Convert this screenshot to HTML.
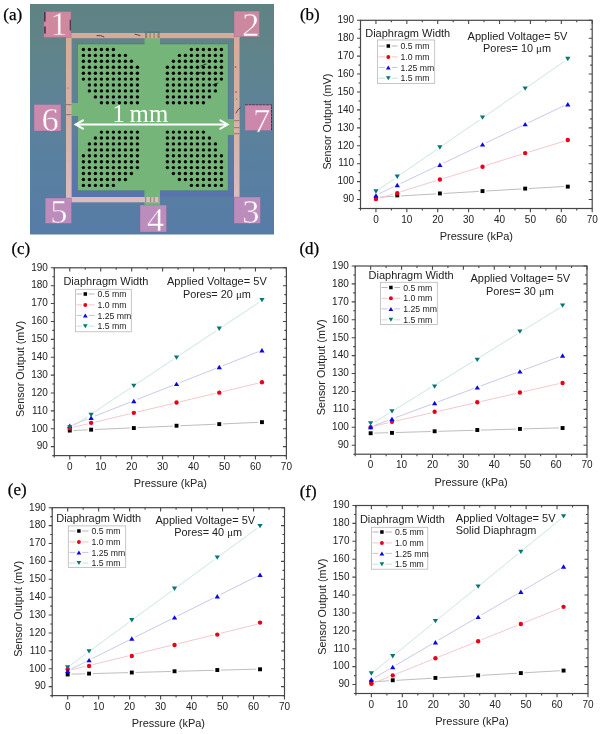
<!DOCTYPE html>
<html><head><meta charset="utf-8"><style>
html,body{margin:0;padding:0;background:#fff;width:602px;height:734px;overflow:hidden}
svg{display:block;filter:blur(0.4px)}
</style></head><body>
<svg width="602" height="734" viewBox="0 0 602 734" font-family='"Liberation Sans", sans-serif'>
<defs><linearGradient id="bg" x1="0" y1="0" x2="0" y2="1"><stop offset="0" stop-color="#5f8283"/><stop offset="0.2" stop-color="#608489"/><stop offset="0.4" stop-color="#5e8396"/><stop offset="0.65" stop-color="#5a809f"/><stop offset="1" stop-color="#567ca7"/></linearGradient><linearGradient id="tr" gradientUnits="userSpaceOnUse" x1="0" y1="33" x2="0" y2="203"><stop offset="0" stop-color="#d8aa98"/><stop offset="0.5" stop-color="#d8b0a6"/><stop offset="1" stop-color="#dcbcc0"/></linearGradient><linearGradient id="ib" gradientUnits="userSpaceOnUse" x1="0" y1="38" x2="0" y2="197"><stop offset="0" stop-color="#5a8290" stop-opacity="0"/><stop offset="0.6" stop-color="#5874a8" stop-opacity="0.2"/><stop offset="1" stop-color="#5a6cb4" stop-opacity="0.6"/></linearGradient><linearGradient id="pk" x1="0" y1="0" x2="0" y2="1"><stop offset="0" stop-color="#cf8aa0"/><stop offset="0.5" stop-color="#cc8cae"/><stop offset="1" stop-color="#bd8cbc"/></linearGradient></defs>
<rect x="30" y="4" width="244" height="230.5" fill="url(#bg)"/>
<rect x="71.5" y="38" width="162.5" height="159" fill="url(#ib)"/>
<rect x="77.5" y="44" width="150.7" height="146.7" fill="#76b579" stroke="#3d5c8c" stroke-width="0.8" stroke-opacity="0.45"/>
<rect x="144.5" y="31.5" width="15.5" height="13.5" fill="#4f7a78"/><rect x="144.5" y="36" width="15.5" height="9" fill="#76b579"/>
<rect x="144.5" y="190" width="15.5" height="15" fill="#76b579"/>
<rect x="66" y="103" width="12" height="13" fill="#76b579"/>
<rect x="227" y="119" width="12.5" height="16" fill="#76b579"/>
<rect x="66" y="33" width="173.5" height="5.2" fill="url(#tr)"/>
<rect x="66" y="33" width="5.6" height="169.3" fill="url(#tr)"/>
<rect x="234" y="33" width="5.5" height="166" fill="url(#tr)"/>
<rect x="66" y="197" width="94" height="5.3" fill="url(#tr)"/>
<g fill="#6b5a4a" opacity="0.55"><rect x="145" y="33" width="2.2" height="5"/><rect x="149.5" y="33" width="1.2" height="5"/><rect x="153.5" y="33" width="1.2" height="5"/><rect x="157.5" y="33" width="2.2" height="5"/><rect x="145" y="197" width="1.2" height="5"/><rect x="150" y="197" width="1.2" height="5"/><rect x="153.5" y="197" width="1.2" height="5"/><rect x="158.5" y="197" width="1.2" height="5"/><rect x="66" y="104" width="5.6" height="1.2"/><rect x="66" y="114" width="5.6" height="1.2"/><rect x="234" y="120" width="5.5" height="1.2"/><rect x="234" y="127" width="5.5" height="1.2"/><rect x="234" y="133" width="5.5" height="1.2"/></g>
<rect x="43.8" y="11.5" width="27.3" height="26" fill="#cf889e" stroke="#7a6a90" stroke-width="0.6" stroke-opacity="0.5"/>
<text x="58.8" y="35.4" text-anchor="middle" font-family='"Liberation Serif", serif' font-size="34.5" fill="#fff" stroke="#cf889e" stroke-width="0.45">1</text>
<rect x="234" y="11.1" width="25.4" height="25.7" fill="#cc889f" stroke="#7a6a90" stroke-width="0.6" stroke-opacity="0.5"/>
<text x="250.8" y="36.0" text-anchor="middle" font-family='"Liberation Serif", serif' font-size="34.5" fill="#fff" stroke="#cc889f" stroke-width="0.45">2</text>
<rect x="234" y="197" width="26.4" height="26.4" fill="#bb8cbc" stroke="#7a6a90" stroke-width="0.6" stroke-opacity="0.5"/>
<text x="250.8" y="223.0" text-anchor="middle" font-family='"Liberation Serif", serif' font-size="34.5" fill="#fff" stroke="#bb8cbc" stroke-width="0.45">3</text>
<rect x="140" y="205" width="26.5" height="27" fill="#bb8cbc" stroke="#7a6a90" stroke-width="0.6" stroke-opacity="0.5"/>
<text x="155.5" y="230.5" text-anchor="middle" font-family='"Liberation Serif", serif' font-size="34.5" fill="#fff" stroke="#bb8cbc" stroke-width="0.45">4</text>
<rect x="45.2" y="198" width="26.3" height="25.4" fill="#bd8cbc" stroke="#7a6a90" stroke-width="0.6" stroke-opacity="0.5"/>
<text x="58.9" y="223.4" text-anchor="middle" font-family='"Liberation Serif", serif' font-size="34.5" fill="#fff" stroke="#bd8cbc" stroke-width="0.45">5</text>
<rect x="34" y="104.5" width="27" height="26.5" fill="#c98aae" stroke="#7a6a90" stroke-width="0.6" stroke-opacity="0.5"/>
<text x="50.0" y="131.0" text-anchor="middle" font-family='"Liberation Serif", serif' font-size="34.5" fill="#fff" stroke="#c98aae" stroke-width="0.45">6</text>
<rect x="245" y="104.5" width="26.5" height="26" fill="#cc88ac" stroke="#7a6a90" stroke-width="0.6" stroke-opacity="0.5"/>
<text x="261.5" y="131.5" text-anchor="middle" font-family='"Liberation Serif", serif' font-size="34.5" fill="#fff" stroke="#cc88ac" stroke-width="0.45">7</text>
<g fill="#050505"><circle cx="83.4" cy="49.5" r="1.7"/><circle cx="89.4" cy="49.5" r="1.7"/><circle cx="95.4" cy="49.5" r="1.7"/><circle cx="101.4" cy="49.5" r="1.7"/><circle cx="107.4" cy="49.5" r="1.7"/><circle cx="113.4" cy="49.5" r="1.7"/><circle cx="83.4" cy="55.4" r="1.7"/><circle cx="89.4" cy="55.4" r="1.7"/><circle cx="95.4" cy="55.4" r="1.7"/><circle cx="101.4" cy="55.4" r="1.7"/><circle cx="107.4" cy="55.4" r="1.7"/><circle cx="113.4" cy="55.4" r="1.7"/><circle cx="119.4" cy="55.4" r="1.7"/><circle cx="125.4" cy="55.4" r="1.7"/><circle cx="83.4" cy="61.3" r="1.7"/><circle cx="89.4" cy="61.3" r="1.7"/><circle cx="95.4" cy="61.3" r="1.7"/><circle cx="101.4" cy="61.3" r="1.7"/><circle cx="107.4" cy="61.3" r="1.7"/><circle cx="113.4" cy="61.3" r="1.7"/><circle cx="119.4" cy="61.3" r="1.7"/><circle cx="125.4" cy="61.3" r="1.7"/><circle cx="131.4" cy="61.3" r="1.7"/><circle cx="83.4" cy="67.3" r="1.7"/><circle cx="89.4" cy="67.3" r="1.7"/><circle cx="95.4" cy="67.3" r="1.7"/><circle cx="101.4" cy="67.3" r="1.7"/><circle cx="107.4" cy="67.3" r="1.7"/><circle cx="113.4" cy="67.3" r="1.7"/><circle cx="119.4" cy="67.3" r="1.7"/><circle cx="125.4" cy="67.3" r="1.7"/><circle cx="131.4" cy="67.3" r="1.7"/><circle cx="137.4" cy="67.3" r="1.7"/><circle cx="83.4" cy="73.2" r="1.7"/><circle cx="89.4" cy="73.2" r="1.7"/><circle cx="95.4" cy="73.2" r="1.7"/><circle cx="101.4" cy="73.2" r="1.7"/><circle cx="107.4" cy="73.2" r="1.7"/><circle cx="113.4" cy="73.2" r="1.7"/><circle cx="119.4" cy="73.2" r="1.7"/><circle cx="125.4" cy="73.2" r="1.7"/><circle cx="131.4" cy="73.2" r="1.7"/><circle cx="137.4" cy="73.2" r="1.7"/><circle cx="83.4" cy="79.1" r="1.7"/><circle cx="89.4" cy="79.1" r="1.7"/><circle cx="95.4" cy="79.1" r="1.7"/><circle cx="101.4" cy="79.1" r="1.7"/><circle cx="107.4" cy="79.1" r="1.7"/><circle cx="113.4" cy="79.1" r="1.7"/><circle cx="119.4" cy="79.1" r="1.7"/><circle cx="125.4" cy="79.1" r="1.7"/><circle cx="131.4" cy="79.1" r="1.7"/><circle cx="137.4" cy="79.1" r="1.7"/><circle cx="89.4" cy="85.0" r="1.7"/><circle cx="95.4" cy="85.0" r="1.7"/><circle cx="101.4" cy="85.0" r="1.7"/><circle cx="107.4" cy="85.0" r="1.7"/><circle cx="113.4" cy="85.0" r="1.7"/><circle cx="119.4" cy="85.0" r="1.7"/><circle cx="125.4" cy="85.0" r="1.7"/><circle cx="131.4" cy="85.0" r="1.7"/><circle cx="137.4" cy="85.0" r="1.7"/><circle cx="89.4" cy="90.9" r="1.7"/><circle cx="95.4" cy="90.9" r="1.7"/><circle cx="101.4" cy="90.9" r="1.7"/><circle cx="107.4" cy="90.9" r="1.7"/><circle cx="113.4" cy="90.9" r="1.7"/><circle cx="119.4" cy="90.9" r="1.7"/><circle cx="125.4" cy="90.9" r="1.7"/><circle cx="131.4" cy="90.9" r="1.7"/><circle cx="137.4" cy="90.9" r="1.7"/><circle cx="95.4" cy="96.9" r="1.7"/><circle cx="101.4" cy="96.9" r="1.7"/><circle cx="107.4" cy="96.9" r="1.7"/><circle cx="113.4" cy="96.9" r="1.7"/><circle cx="119.4" cy="96.9" r="1.7"/><circle cx="125.4" cy="96.9" r="1.7"/><circle cx="131.4" cy="96.9" r="1.7"/><circle cx="137.4" cy="96.9" r="1.7"/><circle cx="101.4" cy="102.8" r="1.7"/><circle cx="107.4" cy="102.8" r="1.7"/><circle cx="113.4" cy="102.8" r="1.7"/><circle cx="119.4" cy="102.8" r="1.7"/><circle cx="125.4" cy="102.8" r="1.7"/><circle cx="131.4" cy="102.8" r="1.7"/><circle cx="137.4" cy="102.8" r="1.7"/><circle cx="191.4" cy="49.5" r="1.7"/><circle cx="197.4" cy="49.5" r="1.7"/><circle cx="203.4" cy="49.5" r="1.7"/><circle cx="209.4" cy="49.5" r="1.7"/><circle cx="215.4" cy="49.5" r="1.7"/><circle cx="221.4" cy="49.5" r="1.7"/><circle cx="179.4" cy="55.4" r="1.7"/><circle cx="185.4" cy="55.4" r="1.7"/><circle cx="191.4" cy="55.4" r="1.7"/><circle cx="197.4" cy="55.4" r="1.7"/><circle cx="203.4" cy="55.4" r="1.7"/><circle cx="209.4" cy="55.4" r="1.7"/><circle cx="215.4" cy="55.4" r="1.7"/><circle cx="221.4" cy="55.4" r="1.7"/><circle cx="173.4" cy="61.3" r="1.7"/><circle cx="179.4" cy="61.3" r="1.7"/><circle cx="185.4" cy="61.3" r="1.7"/><circle cx="191.4" cy="61.3" r="1.7"/><circle cx="197.4" cy="61.3" r="1.7"/><circle cx="203.4" cy="61.3" r="1.7"/><circle cx="209.4" cy="61.3" r="1.7"/><circle cx="215.4" cy="61.3" r="1.7"/><circle cx="221.4" cy="61.3" r="1.7"/><circle cx="167.4" cy="67.3" r="1.7"/><circle cx="173.4" cy="67.3" r="1.7"/><circle cx="179.4" cy="67.3" r="1.7"/><circle cx="185.4" cy="67.3" r="1.7"/><circle cx="191.4" cy="67.3" r="1.7"/><circle cx="197.4" cy="67.3" r="1.7"/><circle cx="203.4" cy="67.3" r="1.7"/><circle cx="209.4" cy="67.3" r="1.7"/><circle cx="215.4" cy="67.3" r="1.7"/><circle cx="221.4" cy="67.3" r="1.7"/><circle cx="167.4" cy="73.2" r="1.7"/><circle cx="173.4" cy="73.2" r="1.7"/><circle cx="179.4" cy="73.2" r="1.7"/><circle cx="185.4" cy="73.2" r="1.7"/><circle cx="191.4" cy="73.2" r="1.7"/><circle cx="197.4" cy="73.2" r="1.7"/><circle cx="203.4" cy="73.2" r="1.7"/><circle cx="209.4" cy="73.2" r="1.7"/><circle cx="215.4" cy="73.2" r="1.7"/><circle cx="221.4" cy="73.2" r="1.7"/><circle cx="167.4" cy="79.1" r="1.7"/><circle cx="173.4" cy="79.1" r="1.7"/><circle cx="179.4" cy="79.1" r="1.7"/><circle cx="185.4" cy="79.1" r="1.7"/><circle cx="191.4" cy="79.1" r="1.7"/><circle cx="197.4" cy="79.1" r="1.7"/><circle cx="203.4" cy="79.1" r="1.7"/><circle cx="209.4" cy="79.1" r="1.7"/><circle cx="215.4" cy="79.1" r="1.7"/><circle cx="221.4" cy="79.1" r="1.7"/><circle cx="167.4" cy="85.0" r="1.7"/><circle cx="173.4" cy="85.0" r="1.7"/><circle cx="179.4" cy="85.0" r="1.7"/><circle cx="185.4" cy="85.0" r="1.7"/><circle cx="191.4" cy="85.0" r="1.7"/><circle cx="197.4" cy="85.0" r="1.7"/><circle cx="203.4" cy="85.0" r="1.7"/><circle cx="209.4" cy="85.0" r="1.7"/><circle cx="215.4" cy="85.0" r="1.7"/><circle cx="167.4" cy="90.9" r="1.7"/><circle cx="173.4" cy="90.9" r="1.7"/><circle cx="179.4" cy="90.9" r="1.7"/><circle cx="185.4" cy="90.9" r="1.7"/><circle cx="191.4" cy="90.9" r="1.7"/><circle cx="197.4" cy="90.9" r="1.7"/><circle cx="203.4" cy="90.9" r="1.7"/><circle cx="209.4" cy="90.9" r="1.7"/><circle cx="215.4" cy="90.9" r="1.7"/><circle cx="167.4" cy="96.9" r="1.7"/><circle cx="173.4" cy="96.9" r="1.7"/><circle cx="179.4" cy="96.9" r="1.7"/><circle cx="185.4" cy="96.9" r="1.7"/><circle cx="191.4" cy="96.9" r="1.7"/><circle cx="197.4" cy="96.9" r="1.7"/><circle cx="203.4" cy="96.9" r="1.7"/><circle cx="209.4" cy="96.9" r="1.7"/><circle cx="167.4" cy="102.8" r="1.7"/><circle cx="173.4" cy="102.8" r="1.7"/><circle cx="179.4" cy="102.8" r="1.7"/><circle cx="185.4" cy="102.8" r="1.7"/><circle cx="191.4" cy="102.8" r="1.7"/><circle cx="197.4" cy="102.8" r="1.7"/><circle cx="203.4" cy="102.8" r="1.7"/><circle cx="101.4" cy="132.1" r="1.7"/><circle cx="107.4" cy="132.1" r="1.7"/><circle cx="113.4" cy="132.1" r="1.7"/><circle cx="119.4" cy="132.1" r="1.7"/><circle cx="125.4" cy="132.1" r="1.7"/><circle cx="131.4" cy="132.1" r="1.7"/><circle cx="137.4" cy="132.1" r="1.7"/><circle cx="95.4" cy="138.0" r="1.7"/><circle cx="101.4" cy="138.0" r="1.7"/><circle cx="107.4" cy="138.0" r="1.7"/><circle cx="113.4" cy="138.0" r="1.7"/><circle cx="119.4" cy="138.0" r="1.7"/><circle cx="125.4" cy="138.0" r="1.7"/><circle cx="131.4" cy="138.0" r="1.7"/><circle cx="137.4" cy="138.0" r="1.7"/><circle cx="89.4" cy="143.9" r="1.7"/><circle cx="95.4" cy="143.9" r="1.7"/><circle cx="101.4" cy="143.9" r="1.7"/><circle cx="107.4" cy="143.9" r="1.7"/><circle cx="113.4" cy="143.9" r="1.7"/><circle cx="119.4" cy="143.9" r="1.7"/><circle cx="125.4" cy="143.9" r="1.7"/><circle cx="131.4" cy="143.9" r="1.7"/><circle cx="137.4" cy="143.9" r="1.7"/><circle cx="89.4" cy="149.9" r="1.7"/><circle cx="95.4" cy="149.9" r="1.7"/><circle cx="101.4" cy="149.9" r="1.7"/><circle cx="107.4" cy="149.9" r="1.7"/><circle cx="113.4" cy="149.9" r="1.7"/><circle cx="119.4" cy="149.9" r="1.7"/><circle cx="125.4" cy="149.9" r="1.7"/><circle cx="131.4" cy="149.9" r="1.7"/><circle cx="137.4" cy="149.9" r="1.7"/><circle cx="83.4" cy="155.8" r="1.7"/><circle cx="89.4" cy="155.8" r="1.7"/><circle cx="95.4" cy="155.8" r="1.7"/><circle cx="101.4" cy="155.8" r="1.7"/><circle cx="107.4" cy="155.8" r="1.7"/><circle cx="113.4" cy="155.8" r="1.7"/><circle cx="119.4" cy="155.8" r="1.7"/><circle cx="125.4" cy="155.8" r="1.7"/><circle cx="131.4" cy="155.8" r="1.7"/><circle cx="137.4" cy="155.8" r="1.7"/><circle cx="83.4" cy="161.7" r="1.7"/><circle cx="89.4" cy="161.7" r="1.7"/><circle cx="95.4" cy="161.7" r="1.7"/><circle cx="101.4" cy="161.7" r="1.7"/><circle cx="107.4" cy="161.7" r="1.7"/><circle cx="113.4" cy="161.7" r="1.7"/><circle cx="119.4" cy="161.7" r="1.7"/><circle cx="125.4" cy="161.7" r="1.7"/><circle cx="131.4" cy="161.7" r="1.7"/><circle cx="137.4" cy="161.7" r="1.7"/><circle cx="83.4" cy="167.6" r="1.7"/><circle cx="89.4" cy="167.6" r="1.7"/><circle cx="95.4" cy="167.6" r="1.7"/><circle cx="101.4" cy="167.6" r="1.7"/><circle cx="107.4" cy="167.6" r="1.7"/><circle cx="113.4" cy="167.6" r="1.7"/><circle cx="119.4" cy="167.6" r="1.7"/><circle cx="125.4" cy="167.6" r="1.7"/><circle cx="131.4" cy="167.6" r="1.7"/><circle cx="137.4" cy="167.6" r="1.7"/><circle cx="83.4" cy="173.5" r="1.7"/><circle cx="89.4" cy="173.5" r="1.7"/><circle cx="95.4" cy="173.5" r="1.7"/><circle cx="101.4" cy="173.5" r="1.7"/><circle cx="107.4" cy="173.5" r="1.7"/><circle cx="113.4" cy="173.5" r="1.7"/><circle cx="119.4" cy="173.5" r="1.7"/><circle cx="125.4" cy="173.5" r="1.7"/><circle cx="131.4" cy="173.5" r="1.7"/><circle cx="83.4" cy="179.5" r="1.7"/><circle cx="89.4" cy="179.5" r="1.7"/><circle cx="95.4" cy="179.5" r="1.7"/><circle cx="101.4" cy="179.5" r="1.7"/><circle cx="107.4" cy="179.5" r="1.7"/><circle cx="113.4" cy="179.5" r="1.7"/><circle cx="119.4" cy="179.5" r="1.7"/><circle cx="125.4" cy="179.5" r="1.7"/><circle cx="83.4" cy="185.4" r="1.7"/><circle cx="89.4" cy="185.4" r="1.7"/><circle cx="95.4" cy="185.4" r="1.7"/><circle cx="101.4" cy="185.4" r="1.7"/><circle cx="107.4" cy="185.4" r="1.7"/><circle cx="113.4" cy="185.4" r="1.7"/><circle cx="167.4" cy="132.1" r="1.7"/><circle cx="173.4" cy="132.1" r="1.7"/><circle cx="179.4" cy="132.1" r="1.7"/><circle cx="185.4" cy="132.1" r="1.7"/><circle cx="191.4" cy="132.1" r="1.7"/><circle cx="197.4" cy="132.1" r="1.7"/><circle cx="203.4" cy="132.1" r="1.7"/><circle cx="167.4" cy="138.0" r="1.7"/><circle cx="173.4" cy="138.0" r="1.7"/><circle cx="179.4" cy="138.0" r="1.7"/><circle cx="185.4" cy="138.0" r="1.7"/><circle cx="191.4" cy="138.0" r="1.7"/><circle cx="197.4" cy="138.0" r="1.7"/><circle cx="203.4" cy="138.0" r="1.7"/><circle cx="209.4" cy="138.0" r="1.7"/><circle cx="167.4" cy="143.9" r="1.7"/><circle cx="173.4" cy="143.9" r="1.7"/><circle cx="179.4" cy="143.9" r="1.7"/><circle cx="185.4" cy="143.9" r="1.7"/><circle cx="191.4" cy="143.9" r="1.7"/><circle cx="197.4" cy="143.9" r="1.7"/><circle cx="203.4" cy="143.9" r="1.7"/><circle cx="209.4" cy="143.9" r="1.7"/><circle cx="215.4" cy="143.9" r="1.7"/><circle cx="167.4" cy="149.9" r="1.7"/><circle cx="173.4" cy="149.9" r="1.7"/><circle cx="179.4" cy="149.9" r="1.7"/><circle cx="185.4" cy="149.9" r="1.7"/><circle cx="191.4" cy="149.9" r="1.7"/><circle cx="197.4" cy="149.9" r="1.7"/><circle cx="203.4" cy="149.9" r="1.7"/><circle cx="209.4" cy="149.9" r="1.7"/><circle cx="215.4" cy="149.9" r="1.7"/><circle cx="167.4" cy="155.8" r="1.7"/><circle cx="173.4" cy="155.8" r="1.7"/><circle cx="179.4" cy="155.8" r="1.7"/><circle cx="185.4" cy="155.8" r="1.7"/><circle cx="191.4" cy="155.8" r="1.7"/><circle cx="197.4" cy="155.8" r="1.7"/><circle cx="203.4" cy="155.8" r="1.7"/><circle cx="209.4" cy="155.8" r="1.7"/><circle cx="215.4" cy="155.8" r="1.7"/><circle cx="221.4" cy="155.8" r="1.7"/><circle cx="167.4" cy="161.7" r="1.7"/><circle cx="173.4" cy="161.7" r="1.7"/><circle cx="179.4" cy="161.7" r="1.7"/><circle cx="185.4" cy="161.7" r="1.7"/><circle cx="191.4" cy="161.7" r="1.7"/><circle cx="197.4" cy="161.7" r="1.7"/><circle cx="203.4" cy="161.7" r="1.7"/><circle cx="209.4" cy="161.7" r="1.7"/><circle cx="215.4" cy="161.7" r="1.7"/><circle cx="221.4" cy="161.7" r="1.7"/><circle cx="167.4" cy="167.6" r="1.7"/><circle cx="173.4" cy="167.6" r="1.7"/><circle cx="179.4" cy="167.6" r="1.7"/><circle cx="185.4" cy="167.6" r="1.7"/><circle cx="191.4" cy="167.6" r="1.7"/><circle cx="197.4" cy="167.6" r="1.7"/><circle cx="203.4" cy="167.6" r="1.7"/><circle cx="209.4" cy="167.6" r="1.7"/><circle cx="215.4" cy="167.6" r="1.7"/><circle cx="221.4" cy="167.6" r="1.7"/><circle cx="173.4" cy="173.5" r="1.7"/><circle cx="179.4" cy="173.5" r="1.7"/><circle cx="185.4" cy="173.5" r="1.7"/><circle cx="191.4" cy="173.5" r="1.7"/><circle cx="197.4" cy="173.5" r="1.7"/><circle cx="203.4" cy="173.5" r="1.7"/><circle cx="209.4" cy="173.5" r="1.7"/><circle cx="215.4" cy="173.5" r="1.7"/><circle cx="221.4" cy="173.5" r="1.7"/><circle cx="179.4" cy="179.5" r="1.7"/><circle cx="185.4" cy="179.5" r="1.7"/><circle cx="191.4" cy="179.5" r="1.7"/><circle cx="197.4" cy="179.5" r="1.7"/><circle cx="203.4" cy="179.5" r="1.7"/><circle cx="209.4" cy="179.5" r="1.7"/><circle cx="215.4" cy="179.5" r="1.7"/><circle cx="221.4" cy="179.5" r="1.7"/><circle cx="191.4" cy="185.4" r="1.7"/><circle cx="197.4" cy="185.4" r="1.7"/><circle cx="203.4" cy="185.4" r="1.7"/><circle cx="209.4" cy="185.4" r="1.7"/><circle cx="215.4" cy="185.4" r="1.7"/><circle cx="221.4" cy="185.4" r="1.7"/></g>
<g stroke="#1a1a2a" fill="none" stroke-linecap="round" opacity="0.75"><path d="M44.8,12.5V21M45,27V33" stroke-width="1.6"/><path d="M70.3,20V30" stroke-width="1.2"/><path d="M97,35.6Q101,35 104,36.8" stroke-width="1" stroke="#3a1a1a"/><path d="M135,34.2L140,35.5" stroke-width="0.9" stroke="#3a1a1a"/><path d="M201,66L206,64M199,72.5L203,73M213,85L218,83M197,75L200,73" stroke-width="1.1"/><path d="M236,113Q237.5,109 240,108" stroke-width="0.9"/><path d="M245.5,104.8H271.5V130" stroke-width="0.9" stroke-dasharray="2,1.5"/></g>
<g fill="#2a1a1a" opacity="0.6"><circle cx="235.5" cy="67" r="0.8"/><circle cx="236" cy="92" r="0.8"/><circle cx="236.5" cy="99" r="0.6"/><circle cx="68" cy="88" r="0.6"/></g>
<path d="M77,124.5H226" stroke="#fff" stroke-width="2.2"/>
<path d="M83,120.3L75.6,124.5L83,128.7" stroke="#fff" stroke-width="2" fill="none" stroke-linecap="round"/>
<path d="M220.4,120.3L227.6,124.5L220.4,128.7" stroke="#fff" stroke-width="2" fill="none" stroke-linecap="round"/>
<text x="112.6" y="122" font-family='"Liberation Serif", serif' font-size="24.6" fill="#fff">1</text><text x="129.6" y="122" font-family='"Liberation Serif", serif' font-size="24.6" fill="#fff" textLength="38.6" lengthAdjust="spacingAndGlyphs">mm</text>
<text x="3.2" y="20.3" font-family='"Liberation Serif", serif' font-size="17.1" fill="#000" stroke="#000" stroke-width="0.25">(a)</text>
<line x1="375.95" y1="197.38" x2="567.79" y2="186.29" stroke="#b6b6b6" stroke-width="0.9"/>
<line x1="375.95" y1="199.33" x2="567.79" y2="140.09" stroke="#f2c2c6" stroke-width="0.9"/>
<line x1="375.95" y1="195.22" x2="567.79" y2="103.95" stroke="#c2c2ec" stroke-width="0.9"/>
<line x1="375.95" y1="191.51" x2="567.79" y2="59.03" stroke="#c6e2e2" stroke-width="0.9"/>
<g fill="#fff"><circle cx="375.95" cy="198.28" r="3.7"/><circle cx="397.26" cy="195.42" r="3.7"/><circle cx="439.90" cy="193.44" r="3.7"/><circle cx="482.53" cy="191.11" r="3.7"/><circle cx="525.16" cy="188.60" r="3.7"/><circle cx="567.79" cy="186.63" r="3.7"/><circle cx="375.95" cy="199.00" r="3.7"/><circle cx="397.26" cy="193.09" r="3.7"/><circle cx="439.90" cy="179.46" r="3.7"/><circle cx="482.53" cy="166.74" r="3.7"/><circle cx="525.16" cy="153.12" r="3.7"/><circle cx="567.79" cy="140.03" r="3.7"/><circle cx="375.95" cy="195.42" r="3.7"/><circle cx="397.26" cy="185.02" r="3.7"/><circle cx="439.90" cy="164.77" r="3.7"/><circle cx="482.53" cy="144.33" r="3.7"/><circle cx="525.16" cy="124.08" r="3.7"/><circle cx="567.79" cy="104.18" r="3.7"/><circle cx="375.95" cy="191.47" r="3.7"/><circle cx="397.26" cy="176.77" r="3.7"/><circle cx="439.90" cy="147.56" r="3.7"/><circle cx="482.53" cy="117.63" r="3.7"/><circle cx="525.16" cy="88.59" r="3.7"/><circle cx="567.79" cy="59.02" r="3.7"/></g>
<rect x="374.00" y="196.33" width="3.90" height="3.90" fill="#000000"/>
<rect x="395.31" y="193.47" width="3.90" height="3.90" fill="#000000"/>
<rect x="437.95" y="191.49" width="3.90" height="3.90" fill="#000000"/>
<rect x="480.58" y="189.16" width="3.90" height="3.90" fill="#000000"/>
<rect x="523.21" y="186.65" width="3.90" height="3.90" fill="#000000"/>
<rect x="565.84" y="184.68" width="3.90" height="3.90" fill="#000000"/>
<circle cx="375.95" cy="199.00" r="2.20" fill="#ec0018"/>
<circle cx="397.26" cy="193.09" r="2.20" fill="#ec0018"/>
<circle cx="439.90" cy="179.46" r="2.20" fill="#ec0018"/>
<circle cx="482.53" cy="166.74" r="2.20" fill="#ec0018"/>
<circle cx="525.16" cy="153.12" r="2.20" fill="#ec0018"/>
<circle cx="567.79" cy="140.03" r="2.20" fill="#ec0018"/>
<path d="M373.30,197.62L378.60,197.62L375.95,193.22Z" fill="#0808e8"/>
<path d="M394.61,187.22L399.91,187.22L397.26,182.82Z" fill="#0808e8"/>
<path d="M437.25,166.97L442.55,166.97L439.90,162.57Z" fill="#0808e8"/>
<path d="M479.88,146.53L485.18,146.53L482.53,142.13Z" fill="#0808e8"/>
<path d="M522.51,126.28L527.81,126.28L525.16,121.88Z" fill="#0808e8"/>
<path d="M565.14,106.38L570.44,106.38L567.79,101.98Z" fill="#0808e8"/>
<path d="M373.30,189.27L378.60,189.27L375.95,193.67Z" fill="#087676"/>
<path d="M394.61,174.57L399.91,174.57L397.26,178.97Z" fill="#087676"/>
<path d="M437.25,145.36L442.55,145.36L439.90,149.76Z" fill="#087676"/>
<path d="M479.88,115.43L485.18,115.43L482.53,119.83Z" fill="#087676"/>
<path d="M522.51,86.39L527.81,86.39L525.16,90.79Z" fill="#087676"/>
<path d="M565.14,56.82L570.44,56.82L567.79,61.22Z" fill="#087676"/>
<rect x="360.50" y="20.30" width="231.70" height="188.20" fill="none" stroke="#474747" stroke-width="1.2"/>
<path d="M358.50,208.50H360.50M590.20,208.50H592.20M357.00,199.54H360.50M588.70,199.54H592.20M358.50,190.58H360.50M590.20,190.58H592.20M357.00,181.61H360.50M588.70,181.61H592.20M358.50,172.65H360.50M590.20,172.65H592.20M357.00,163.69H360.50M588.70,163.69H592.20M358.50,154.73H360.50M590.20,154.73H592.20M357.00,145.77H360.50M588.70,145.77H592.20M358.50,136.80H360.50M590.20,136.80H592.20M357.00,127.84H360.50M588.70,127.84H592.20M358.50,118.88H360.50M590.20,118.88H592.20M357.00,109.92H360.50M588.70,109.92H592.20M358.50,100.96H360.50M590.20,100.96H592.20M357.00,92.00H360.50M588.70,92.00H592.20M358.50,83.03H360.50M590.20,83.03H592.20M357.00,74.07H360.50M588.70,74.07H592.20M358.50,65.11H360.50M590.20,65.11H592.20M357.00,56.15H360.50M588.70,56.15H592.20M358.50,47.19H360.50M590.20,47.19H592.20M357.00,38.22H360.50M588.70,38.22H592.20M358.50,29.26H360.50M590.20,29.26H592.20M357.00,20.30H360.50M588.70,20.30H592.20M360.50,208.50V210.50M360.50,20.30V22.30M375.95,208.50V212.30M375.95,20.30V24.10M391.39,208.50V210.50M391.39,20.30V22.30M406.84,208.50V212.30M406.84,20.30V24.10M422.29,208.50V210.50M422.29,20.30V22.30M437.73,208.50V212.30M437.73,20.30V24.10M453.18,208.50V210.50M453.18,20.30V22.30M468.63,208.50V212.30M468.63,20.30V24.10M484.07,208.50V210.50M484.07,20.30V22.30M499.52,208.50V212.30M499.52,20.30V24.10M514.97,208.50V210.50M514.97,20.30V22.30M530.41,208.50V212.30M530.41,20.30V24.10M545.86,208.50V210.50M545.86,20.30V22.30M561.31,208.50V212.30M561.31,20.30V24.10M576.75,208.50V210.50M576.75,20.30V22.30M592.20,208.50V212.30M592.20,20.30V24.10" stroke="#474747" stroke-width="1.1" fill="none"/>
<g font-size="10" fill="#222"><text x="354.10" y="202.34" text-anchor="end">90</text><text x="354.10" y="184.41" text-anchor="end">100</text><text x="354.10" y="166.49" text-anchor="end">110</text><text x="354.10" y="148.57" text-anchor="end">120</text><text x="354.10" y="130.64" text-anchor="end">130</text><text x="354.10" y="112.72" text-anchor="end">140</text><text x="354.10" y="94.80" text-anchor="end">150</text><text x="354.10" y="76.87" text-anchor="end">160</text><text x="354.10" y="58.95" text-anchor="end">170</text><text x="354.10" y="41.02" text-anchor="end">180</text><text x="354.10" y="23.10" text-anchor="end">190</text><text x="375.95" y="222.50" text-anchor="middle">0</text><text x="406.84" y="222.50" text-anchor="middle">10</text><text x="437.73" y="222.50" text-anchor="middle">20</text><text x="468.63" y="222.50" text-anchor="middle">30</text><text x="499.52" y="222.50" text-anchor="middle">40</text><text x="530.41" y="222.50" text-anchor="middle">50</text><text x="561.31" y="222.50" text-anchor="middle">60</text><text x="592.20" y="222.50" text-anchor="middle">70</text></g>
<text x="476.35" y="239.90" text-anchor="middle" font-size="11" fill="#222">Pressure (kPa)</text>
<text transform="translate(330.50,121.60) rotate(-90)" text-anchor="middle" font-size="10.8" fill="#222">Sensor Output (mV)</text>
<text x="365.20" y="37.20" font-size="10.9" fill="#222" textLength="85" lengthAdjust="spacingAndGlyphs">Diaphragm Width</text>
<rect x="377.50" y="40.00" width="57.20" height="43.40" fill="#fff" stroke="#b8b8b8" stroke-width="0.8"/>
<line x1="378.50" y1="46.00" x2="397.50" y2="46.00" stroke="#b6b6b6" stroke-width="1"/>
<circle cx="388.30" cy="46.00" r="3.4" fill="#fff"/>
<rect x="386.55" y="44.24" width="3.51" height="3.51" fill="#000000"/>
<text x="400.50" y="49.10" font-size="8.7" fill="#222">0.5 mm</text>
<line x1="378.50" y1="56.90" x2="397.50" y2="56.90" stroke="#f2c2c6" stroke-width="1"/>
<circle cx="388.30" cy="56.90" r="3.4" fill="#fff"/>
<circle cx="388.30" cy="56.90" r="1.98" fill="#ec0018"/>
<text x="400.50" y="60.00" font-size="8.7" fill="#222">1.0 mm</text>
<line x1="378.50" y1="67.40" x2="397.50" y2="67.40" stroke="#c2c2ec" stroke-width="1"/>
<circle cx="388.30" cy="67.40" r="3.4" fill="#fff"/>
<path d="M385.92,69.38L390.69,69.38L388.30,65.42Z" fill="#0808e8"/>
<text x="400.50" y="70.50" font-size="8.7" fill="#222">1.25 mm</text>
<line x1="378.50" y1="78.20" x2="397.50" y2="78.20" stroke="#c6e2e2" stroke-width="1"/>
<circle cx="388.30" cy="78.20" r="3.4" fill="#fff"/>
<path d="M385.92,76.22L390.69,76.22L388.30,80.18Z" fill="#087676"/>
<text x="400.50" y="81.30" font-size="8.7" fill="#222">1.5 mm</text>
<text x="467.60" y="40.10" font-size="10.9" fill="#222" textLength="99.8" lengthAdjust="spacingAndGlyphs">Applied Voltage= 5V</text>
<text x="483.10" y="51.60" font-size="10.9" fill="#222">Pores= 10 <tspan font-family="Liberation Serif">μ</tspan>m</text>
<text x="300.00" y="19.90" font-family='"Liberation Serif", serif' font-size="16.9" fill="#000" stroke="#000" stroke-width="0.25">(b)</text>
<line x1="69.77" y1="430.63" x2="261.95" y2="422.17" stroke="#b6b6b6" stroke-width="0.9"/>
<line x1="69.77" y1="428.17" x2="261.95" y2="382.27" stroke="#f2c2c6" stroke-width="0.9"/>
<line x1="69.77" y1="425.99" x2="261.95" y2="350.29" stroke="#c2c2ec" stroke-width="0.9"/>
<line x1="69.77" y1="428.34" x2="261.95" y2="300.44" stroke="#c6e2e2" stroke-width="0.9"/>
<g fill="#fff"><circle cx="69.77" cy="430.56" r="3.7"/><circle cx="91.13" cy="429.67" r="3.7"/><circle cx="133.83" cy="428.06" r="3.7"/><circle cx="176.54" cy="425.73" r="3.7"/><circle cx="219.25" cy="424.12" r="3.7"/><circle cx="261.95" cy="422.15" r="3.7"/><circle cx="69.77" cy="428.41" r="3.7"/><circle cx="91.13" cy="422.87" r="3.7"/><circle cx="133.83" cy="412.85" r="3.7"/><circle cx="176.54" cy="402.48" r="3.7"/><circle cx="219.25" cy="392.64" r="3.7"/><circle cx="261.95" cy="382.27" r="3.7"/><circle cx="69.77" cy="425.73" r="3.7"/><circle cx="91.13" cy="417.68" r="3.7"/><circle cx="133.83" cy="401.05" r="3.7"/><circle cx="176.54" cy="383.88" r="3.7"/><circle cx="219.25" cy="367.07" r="3.7"/><circle cx="261.95" cy="350.25" r="3.7"/><circle cx="69.77" cy="427.34" r="3.7"/><circle cx="91.13" cy="415.00" r="3.7"/><circle cx="133.83" cy="385.85" r="3.7"/><circle cx="176.54" cy="357.59" r="3.7"/><circle cx="219.25" cy="328.79" r="3.7"/><circle cx="261.95" cy="300.17" r="3.7"/></g>
<rect x="67.82" y="428.61" width="3.90" height="3.90" fill="#000000"/>
<rect x="89.18" y="427.72" width="3.90" height="3.90" fill="#000000"/>
<rect x="131.88" y="426.11" width="3.90" height="3.90" fill="#000000"/>
<rect x="174.59" y="423.78" width="3.90" height="3.90" fill="#000000"/>
<rect x="217.30" y="422.17" width="3.90" height="3.90" fill="#000000"/>
<rect x="260.00" y="420.20" width="3.90" height="3.90" fill="#000000"/>
<circle cx="69.77" cy="428.41" r="2.20" fill="#ec0018"/>
<circle cx="91.13" cy="422.87" r="2.20" fill="#ec0018"/>
<circle cx="133.83" cy="412.85" r="2.20" fill="#ec0018"/>
<circle cx="176.54" cy="402.48" r="2.20" fill="#ec0018"/>
<circle cx="219.25" cy="392.64" r="2.20" fill="#ec0018"/>
<circle cx="261.95" cy="382.27" r="2.20" fill="#ec0018"/>
<path d="M67.12,427.93L72.42,427.93L69.77,423.53Z" fill="#0808e8"/>
<path d="M88.48,419.88L93.78,419.88L91.13,415.48Z" fill="#0808e8"/>
<path d="M131.18,403.25L136.48,403.25L133.83,398.85Z" fill="#0808e8"/>
<path d="M173.89,386.08L179.19,386.08L176.54,381.68Z" fill="#0808e8"/>
<path d="M216.60,369.27L221.90,369.27L219.25,364.87Z" fill="#0808e8"/>
<path d="M259.30,352.45L264.60,352.45L261.95,348.05Z" fill="#0808e8"/>
<path d="M67.12,425.14L72.42,425.14L69.77,429.54Z" fill="#087676"/>
<path d="M88.48,412.80L93.78,412.80L91.13,417.20Z" fill="#087676"/>
<path d="M131.18,383.65L136.48,383.65L133.83,388.05Z" fill="#087676"/>
<path d="M173.89,355.39L179.19,355.39L176.54,359.79Z" fill="#087676"/>
<path d="M216.60,326.59L221.90,326.59L219.25,330.99Z" fill="#087676"/>
<path d="M259.30,297.97L264.60,297.97L261.95,302.37Z" fill="#087676"/>
<rect x="54.30" y="267.80" width="232.10" height="187.80" fill="none" stroke="#474747" stroke-width="1.2"/>
<path d="M52.30,455.60H54.30M284.40,455.60H286.40M50.80,446.66H54.30M282.90,446.66H286.40M52.30,437.71H54.30M284.40,437.71H286.40M50.80,428.77H54.30M282.90,428.77H286.40M52.30,419.83H54.30M284.40,419.83H286.40M50.80,410.89H54.30M282.90,410.89H286.40M52.30,401.94H54.30M284.40,401.94H286.40M50.80,393.00H54.30M282.90,393.00H286.40M52.30,384.06H54.30M284.40,384.06H286.40M50.80,375.11H54.30M282.90,375.11H286.40M52.30,366.17H54.30M284.40,366.17H286.40M50.80,357.23H54.30M282.90,357.23H286.40M52.30,348.29H54.30M284.40,348.29H286.40M50.80,339.34H54.30M282.90,339.34H286.40M52.30,330.40H54.30M284.40,330.40H286.40M50.80,321.46H54.30M282.90,321.46H286.40M52.30,312.51H54.30M284.40,312.51H286.40M50.80,303.57H54.30M282.90,303.57H286.40M52.30,294.63H54.30M284.40,294.63H286.40M50.80,285.69H54.30M282.90,285.69H286.40M52.30,276.74H54.30M284.40,276.74H286.40M50.80,267.80H54.30M282.90,267.80H286.40M54.30,455.60V457.60M54.30,267.80V269.80M69.77,455.60V459.40M69.77,267.80V271.60M85.25,455.60V457.60M85.25,267.80V269.80M100.72,455.60V459.40M100.72,267.80V271.60M116.19,455.60V457.60M116.19,267.80V269.80M131.67,455.60V459.40M131.67,267.80V271.60M147.14,455.60V457.60M147.14,267.80V269.80M162.61,455.60V459.40M162.61,267.80V271.60M178.09,455.60V457.60M178.09,267.80V269.80M193.56,455.60V459.40M193.56,267.80V271.60M209.03,455.60V457.60M209.03,267.80V269.80M224.51,455.60V459.40M224.51,267.80V271.60M239.98,455.60V457.60M239.98,267.80V269.80M255.45,455.60V459.40M255.45,267.80V271.60M270.93,455.60V457.60M270.93,267.80V269.80M286.40,455.60V459.40M286.40,267.80V271.60" stroke="#474747" stroke-width="1.1" fill="none"/>
<g font-size="10" fill="#222"><text x="47.90" y="449.46" text-anchor="end">90</text><text x="47.90" y="431.57" text-anchor="end">100</text><text x="47.90" y="413.69" text-anchor="end">110</text><text x="47.90" y="395.80" text-anchor="end">120</text><text x="47.90" y="377.91" text-anchor="end">130</text><text x="47.90" y="360.03" text-anchor="end">140</text><text x="47.90" y="342.14" text-anchor="end">150</text><text x="47.90" y="324.26" text-anchor="end">160</text><text x="47.90" y="306.37" text-anchor="end">170</text><text x="47.90" y="288.49" text-anchor="end">180</text><text x="47.90" y="270.60" text-anchor="end">190</text><text x="69.77" y="469.60" text-anchor="middle">0</text><text x="100.72" y="469.60" text-anchor="middle">10</text><text x="131.67" y="469.60" text-anchor="middle">20</text><text x="162.61" y="469.60" text-anchor="middle">30</text><text x="193.56" y="469.60" text-anchor="middle">40</text><text x="224.51" y="469.60" text-anchor="middle">50</text><text x="255.45" y="469.60" text-anchor="middle">60</text><text x="286.40" y="469.60" text-anchor="middle">70</text></g>
<text x="170.35" y="487.00" text-anchor="middle" font-size="11" fill="#222">Pressure (kPa)</text>
<text transform="translate(24.30,368.90) rotate(-90)" text-anchor="middle" font-size="10.8" fill="#222">Sensor Output (mV)</text>
<text x="63.40" y="285.30" font-size="10.9" fill="#222" textLength="85" lengthAdjust="spacingAndGlyphs">Diaphragm Width</text>
<rect x="75.50" y="289.30" width="55.80" height="42.50" fill="#fff" stroke="#b8b8b8" stroke-width="0.8"/>
<line x1="76.50" y1="294.00" x2="94.50" y2="294.00" stroke="#b6b6b6" stroke-width="1"/>
<circle cx="85.30" cy="294.00" r="3.4" fill="#fff"/>
<rect x="83.55" y="292.25" width="3.51" height="3.51" fill="#000000"/>
<text x="97.50" y="297.10" font-size="8.7" fill="#222">0.5 mm</text>
<line x1="76.50" y1="304.90" x2="94.50" y2="304.90" stroke="#f2c2c6" stroke-width="1"/>
<circle cx="85.30" cy="304.90" r="3.4" fill="#fff"/>
<circle cx="85.30" cy="304.90" r="1.98" fill="#ec0018"/>
<text x="97.50" y="308.00" font-size="8.7" fill="#222">1.0 mm</text>
<line x1="76.50" y1="315.40" x2="94.50" y2="315.40" stroke="#c2c2ec" stroke-width="1"/>
<circle cx="85.30" cy="315.40" r="3.4" fill="#fff"/>
<path d="M82.91,317.38L87.69,317.38L85.30,313.42Z" fill="#0808e8"/>
<text x="97.50" y="318.50" font-size="8.7" fill="#222">1.25 mm</text>
<line x1="76.50" y1="326.20" x2="94.50" y2="326.20" stroke="#c6e2e2" stroke-width="1"/>
<circle cx="85.30" cy="326.20" r="3.4" fill="#fff"/>
<path d="M82.91,324.22L87.69,324.22L85.30,328.18Z" fill="#087676"/>
<text x="97.50" y="329.30" font-size="8.7" fill="#222">1.5 mm</text>
<text x="167.00" y="285.00" font-size="10.9" fill="#222" textLength="99.8" lengthAdjust="spacingAndGlyphs">Applied Voltage= 5V</text>
<text x="182.90" y="297.90" font-size="10.9" fill="#222">Pores= 20 <tspan font-family="Liberation Serif">μ</tspan>m</text>
<text x="11.50" y="253.70" font-family='"Liberation Serif", serif' font-size="16.9" fill="#000" stroke="#000" stroke-width="0.25">(c)</text>
<line x1="370.65" y1="433.22" x2="562.58" y2="427.81" stroke="#b6b6b6" stroke-width="0.9"/>
<line x1="370.65" y1="426.82" x2="562.58" y2="382.79" stroke="#f2c2c6" stroke-width="0.9"/>
<line x1="370.65" y1="426.88" x2="562.58" y2="355.49" stroke="#c2c2ec" stroke-width="0.9"/>
<line x1="370.65" y1="424.62" x2="562.58" y2="306.09" stroke="#c6e2e2" stroke-width="0.9"/>
<g fill="#fff"><circle cx="370.65" cy="433.23" r="3.7"/><circle cx="391.98" cy="432.87" r="3.7"/><circle cx="434.63" cy="431.26" r="3.7"/><circle cx="477.28" cy="430.00" r="3.7"/><circle cx="519.93" cy="428.93" r="3.7"/><circle cx="562.58" cy="428.03" r="3.7"/><circle cx="370.65" cy="427.31" r="3.7"/><circle cx="391.98" cy="421.76" r="3.7"/><circle cx="434.63" cy="411.72" r="3.7"/><circle cx="477.28" cy="402.22" r="3.7"/><circle cx="519.93" cy="392.54" r="3.7"/><circle cx="562.58" cy="383.04" r="3.7"/><circle cx="370.65" cy="426.96" r="3.7"/><circle cx="391.98" cy="418.89" r="3.7"/><circle cx="434.63" cy="402.94" r="3.7"/><circle cx="477.28" cy="387.34" r="3.7"/><circle cx="519.93" cy="371.39" r="3.7"/><circle cx="562.58" cy="355.44" r="3.7"/><circle cx="370.65" cy="423.37" r="3.7"/><circle cx="391.98" cy="411.36" r="3.7"/><circle cx="434.63" cy="386.63" r="3.7"/><circle cx="477.28" cy="359.92" r="3.7"/><circle cx="519.93" cy="331.60" r="3.7"/><circle cx="562.58" cy="305.61" r="3.7"/></g>
<rect x="368.70" y="431.28" width="3.90" height="3.90" fill="#000000"/>
<rect x="390.03" y="430.92" width="3.90" height="3.90" fill="#000000"/>
<rect x="432.68" y="429.31" width="3.90" height="3.90" fill="#000000"/>
<rect x="475.33" y="428.05" width="3.90" height="3.90" fill="#000000"/>
<rect x="517.98" y="426.98" width="3.90" height="3.90" fill="#000000"/>
<rect x="560.63" y="426.08" width="3.90" height="3.90" fill="#000000"/>
<circle cx="370.65" cy="427.31" r="2.20" fill="#ec0018"/>
<circle cx="391.98" cy="421.76" r="2.20" fill="#ec0018"/>
<circle cx="434.63" cy="411.72" r="2.20" fill="#ec0018"/>
<circle cx="477.28" cy="402.22" r="2.20" fill="#ec0018"/>
<circle cx="519.93" cy="392.54" r="2.20" fill="#ec0018"/>
<circle cx="562.58" cy="383.04" r="2.20" fill="#ec0018"/>
<path d="M368.00,429.16L373.30,429.16L370.65,424.76Z" fill="#0808e8"/>
<path d="M389.33,421.09L394.63,421.09L391.98,416.69Z" fill="#0808e8"/>
<path d="M431.98,405.14L437.28,405.14L434.63,400.74Z" fill="#0808e8"/>
<path d="M474.63,389.54L479.93,389.54L477.28,385.14Z" fill="#0808e8"/>
<path d="M517.28,373.59L522.58,373.59L519.93,369.19Z" fill="#0808e8"/>
<path d="M559.93,357.64L565.23,357.64L562.58,353.24Z" fill="#0808e8"/>
<path d="M368.00,421.17L373.30,421.17L370.65,425.57Z" fill="#087676"/>
<path d="M389.33,409.16L394.63,409.16L391.98,413.56Z" fill="#087676"/>
<path d="M431.98,384.43L437.28,384.43L434.63,388.83Z" fill="#087676"/>
<path d="M474.63,357.72L479.93,357.72L477.28,362.12Z" fill="#087676"/>
<path d="M517.28,329.40L522.58,329.40L519.93,333.80Z" fill="#087676"/>
<path d="M559.93,303.41L565.23,303.41L562.58,307.81Z" fill="#087676"/>
<rect x="355.20" y="266.00" width="231.80" height="188.20" fill="none" stroke="#474747" stroke-width="1.2"/>
<path d="M353.20,454.20H355.20M585.00,454.20H587.00M351.70,445.24H355.20M583.50,445.24H587.00M353.20,436.28H355.20M585.00,436.28H587.00M351.70,427.31H355.20M583.50,427.31H587.00M353.20,418.35H355.20M585.00,418.35H587.00M351.70,409.39H355.20M583.50,409.39H587.00M353.20,400.43H355.20M585.00,400.43H587.00M351.70,391.47H355.20M583.50,391.47H587.00M353.20,382.50H355.20M585.00,382.50H587.00M351.70,373.54H355.20M583.50,373.54H587.00M353.20,364.58H355.20M585.00,364.58H587.00M351.70,355.62H355.20M583.50,355.62H587.00M353.20,346.66H355.20M585.00,346.66H587.00M351.70,337.70H355.20M583.50,337.70H587.00M353.20,328.73H355.20M585.00,328.73H587.00M351.70,319.77H355.20M583.50,319.77H587.00M353.20,310.81H355.20M585.00,310.81H587.00M351.70,301.85H355.20M583.50,301.85H587.00M353.20,292.89H355.20M585.00,292.89H587.00M351.70,283.92H355.20M583.50,283.92H587.00M353.20,274.96H355.20M585.00,274.96H587.00M351.70,266.00H355.20M583.50,266.00H587.00M355.20,454.20V456.20M355.20,266.00V268.00M370.65,454.20V458.00M370.65,266.00V269.80M386.11,454.20V456.20M386.11,266.00V268.00M401.56,454.20V458.00M401.56,266.00V269.80M417.01,454.20V456.20M417.01,266.00V268.00M432.47,454.20V458.00M432.47,266.00V269.80M447.92,454.20V456.20M447.92,266.00V268.00M463.37,454.20V458.00M463.37,266.00V269.80M478.83,454.20V456.20M478.83,266.00V268.00M494.28,454.20V458.00M494.28,266.00V269.80M509.73,454.20V456.20M509.73,266.00V268.00M525.19,454.20V458.00M525.19,266.00V269.80M540.64,454.20V456.20M540.64,266.00V268.00M556.09,454.20V458.00M556.09,266.00V269.80M571.55,454.20V456.20M571.55,266.00V268.00M587.00,454.20V458.00M587.00,266.00V269.80" stroke="#474747" stroke-width="1.1" fill="none"/>
<g font-size="10" fill="#222"><text x="348.80" y="448.04" text-anchor="end">90</text><text x="348.80" y="430.11" text-anchor="end">100</text><text x="348.80" y="412.19" text-anchor="end">110</text><text x="348.80" y="394.27" text-anchor="end">120</text><text x="348.80" y="376.34" text-anchor="end">130</text><text x="348.80" y="358.42" text-anchor="end">140</text><text x="348.80" y="340.50" text-anchor="end">150</text><text x="348.80" y="322.57" text-anchor="end">160</text><text x="348.80" y="304.65" text-anchor="end">170</text><text x="348.80" y="286.72" text-anchor="end">180</text><text x="348.80" y="268.80" text-anchor="end">190</text><text x="370.65" y="468.20" text-anchor="middle">0</text><text x="401.56" y="468.20" text-anchor="middle">10</text><text x="432.47" y="468.20" text-anchor="middle">20</text><text x="463.37" y="468.20" text-anchor="middle">30</text><text x="494.28" y="468.20" text-anchor="middle">40</text><text x="525.19" y="468.20" text-anchor="middle">50</text><text x="556.09" y="468.20" text-anchor="middle">60</text><text x="587.00" y="468.20" text-anchor="middle">70</text></g>
<text x="471.10" y="485.60" text-anchor="middle" font-size="11" fill="#222">Pressure (kPa)</text>
<text transform="translate(325.20,367.30) rotate(-90)" text-anchor="middle" font-size="10.8" fill="#222">Sensor Output (mV)</text>
<text x="368.60" y="279.00" font-size="10.9" fill="#222" textLength="85" lengthAdjust="spacingAndGlyphs">Diaphragm Width</text>
<rect x="380.50" y="282.30" width="56.80" height="42.10" fill="#fff" stroke="#b8b8b8" stroke-width="0.8"/>
<line x1="381.50" y1="287.50" x2="400.20" y2="287.50" stroke="#b6b6b6" stroke-width="1"/>
<circle cx="390.90" cy="287.50" r="3.4" fill="#fff"/>
<rect x="389.14" y="285.75" width="3.51" height="3.51" fill="#000000"/>
<text x="403.20" y="290.60" font-size="8.7" fill="#222">0.5 mm</text>
<line x1="381.50" y1="298.30" x2="400.20" y2="298.30" stroke="#f2c2c6" stroke-width="1"/>
<circle cx="390.90" cy="298.30" r="3.4" fill="#fff"/>
<circle cx="390.90" cy="298.30" r="1.98" fill="#ec0018"/>
<text x="403.20" y="301.40" font-size="8.7" fill="#222">1.0 mm</text>
<line x1="381.50" y1="308.90" x2="400.20" y2="308.90" stroke="#c2c2ec" stroke-width="1"/>
<circle cx="390.90" cy="308.90" r="3.4" fill="#fff"/>
<path d="M388.51,310.88L393.28,310.88L390.90,306.92Z" fill="#0808e8"/>
<text x="403.20" y="312.00" font-size="8.7" fill="#222">1.25 mm</text>
<line x1="381.50" y1="319.80" x2="400.20" y2="319.80" stroke="#c6e2e2" stroke-width="1"/>
<circle cx="390.90" cy="319.80" r="3.4" fill="#fff"/>
<path d="M388.51,317.82L393.28,317.82L390.90,321.78Z" fill="#087676"/>
<text x="403.20" y="322.90" font-size="8.7" fill="#222">1.5 mm</text>
<text x="470.40" y="282.20" font-size="10.9" fill="#222" textLength="99.8" lengthAdjust="spacingAndGlyphs">Applied Voltage= 5V</text>
<text x="485.90" y="295.20" font-size="10.9" fill="#222">Pores= 30 <tspan font-family="Liberation Serif">μ</tspan>m</text>
<text x="299.50" y="254.30" font-family='"Liberation Serif", serif' font-size="16.9" fill="#000" stroke="#000" stroke-width="0.25">(d)</text>
<line x1="67.69" y1="674.28" x2="260.03" y2="669.05" stroke="#b6b6b6" stroke-width="0.9"/>
<line x1="67.69" y1="670.76" x2="260.03" y2="623.60" stroke="#f2c2c6" stroke-width="0.9"/>
<line x1="67.69" y1="670.78" x2="260.03" y2="574.80" stroke="#c2c2ec" stroke-width="0.9"/>
<line x1="67.69" y1="667.22" x2="260.03" y2="526.17" stroke="#c6e2e2" stroke-width="0.9"/>
<g fill="#fff"><circle cx="67.69" cy="674.48" r="3.7"/><circle cx="89.06" cy="673.59" r="3.7"/><circle cx="131.80" cy="672.52" r="3.7"/><circle cx="174.54" cy="671.26" r="3.7"/><circle cx="217.29" cy="670.01" r="3.7"/><circle cx="260.03" cy="669.29" r="3.7"/><circle cx="67.69" cy="669.29" r="3.7"/><circle cx="89.06" cy="666.07" r="3.7"/><circle cx="131.80" cy="656.05" r="3.7"/><circle cx="174.54" cy="644.96" r="3.7"/><circle cx="217.29" cy="634.58" r="3.7"/><circle cx="260.03" cy="622.59" r="3.7"/><circle cx="67.69" cy="670.90" r="3.7"/><circle cx="89.06" cy="660.17" r="3.7"/><circle cx="131.80" cy="638.51" r="3.7"/><circle cx="174.54" cy="617.40" r="3.7"/><circle cx="217.29" cy="596.28" r="3.7"/><circle cx="260.03" cy="574.81" r="3.7"/><circle cx="67.69" cy="667.33" r="3.7"/><circle cx="89.06" cy="651.40" r="3.7"/><circle cx="131.80" cy="620.26" r="3.7"/><circle cx="174.54" cy="588.77" r="3.7"/><circle cx="217.29" cy="557.63" r="3.7"/><circle cx="260.03" cy="526.13" r="3.7"/></g>
<rect x="65.74" y="672.53" width="3.90" height="3.90" fill="#000000"/>
<rect x="87.11" y="671.64" width="3.90" height="3.90" fill="#000000"/>
<rect x="129.85" y="670.57" width="3.90" height="3.90" fill="#000000"/>
<rect x="172.59" y="669.31" width="3.90" height="3.90" fill="#000000"/>
<rect x="215.34" y="668.06" width="3.90" height="3.90" fill="#000000"/>
<rect x="258.08" y="667.34" width="3.90" height="3.90" fill="#000000"/>
<circle cx="67.69" cy="669.29" r="2.20" fill="#ec0018"/>
<circle cx="89.06" cy="666.07" r="2.20" fill="#ec0018"/>
<circle cx="131.80" cy="656.05" r="2.20" fill="#ec0018"/>
<circle cx="174.54" cy="644.96" r="2.20" fill="#ec0018"/>
<circle cx="217.29" cy="634.58" r="2.20" fill="#ec0018"/>
<circle cx="260.03" cy="622.59" r="2.20" fill="#ec0018"/>
<path d="M65.04,673.10L70.34,673.10L67.69,668.70Z" fill="#0808e8"/>
<path d="M86.41,662.37L91.71,662.37L89.06,657.97Z" fill="#0808e8"/>
<path d="M129.15,640.71L134.45,640.71L131.80,636.31Z" fill="#0808e8"/>
<path d="M171.89,619.60L177.19,619.60L174.54,615.20Z" fill="#0808e8"/>
<path d="M214.64,598.48L219.94,598.48L217.29,594.08Z" fill="#0808e8"/>
<path d="M257.38,577.01L262.68,577.01L260.03,572.61Z" fill="#0808e8"/>
<path d="M65.04,665.13L70.34,665.13L67.69,669.53Z" fill="#087676"/>
<path d="M86.41,649.20L91.71,649.20L89.06,653.60Z" fill="#087676"/>
<path d="M129.15,618.06L134.45,618.06L131.80,622.46Z" fill="#087676"/>
<path d="M171.89,586.57L177.19,586.57L174.54,590.97Z" fill="#087676"/>
<path d="M214.64,555.43L219.94,555.43L217.29,559.83Z" fill="#087676"/>
<path d="M257.38,523.93L262.68,523.93L260.03,528.33Z" fill="#087676"/>
<rect x="52.20" y="507.70" width="232.30" height="187.90" fill="none" stroke="#474747" stroke-width="1.2"/>
<path d="M50.20,695.60H52.20M282.50,695.60H284.50M48.70,686.65H52.20M281.00,686.65H284.50M50.20,677.70H52.20M282.50,677.70H284.50M48.70,668.76H52.20M281.00,668.76H284.50M50.20,659.81H52.20M282.50,659.81H284.50M48.70,650.86H52.20M281.00,650.86H284.50M50.20,641.91H52.20M282.50,641.91H284.50M48.70,632.97H52.20M281.00,632.97H284.50M50.20,624.02H52.20M282.50,624.02H284.50M48.70,615.07H52.20M281.00,615.07H284.50M50.20,606.12H52.20M282.50,606.12H284.50M48.70,597.18H52.20M281.00,597.18H284.50M50.20,588.23H52.20M282.50,588.23H284.50M48.70,579.28H52.20M281.00,579.28H284.50M50.20,570.33H52.20M282.50,570.33H284.50M48.70,561.39H52.20M281.00,561.39H284.50M50.20,552.44H52.20M282.50,552.44H284.50M48.70,543.49H52.20M281.00,543.49H284.50M50.20,534.54H52.20M282.50,534.54H284.50M48.70,525.60H52.20M281.00,525.60H284.50M50.20,516.65H52.20M282.50,516.65H284.50M48.70,507.70H52.20M281.00,507.70H284.50M52.20,695.60V697.60M52.20,507.70V509.70M67.69,695.60V699.40M67.69,507.70V511.50M83.17,695.60V697.60M83.17,507.70V509.70M98.66,695.60V699.40M98.66,507.70V511.50M114.15,695.60V697.60M114.15,507.70V509.70M129.63,695.60V699.40M129.63,507.70V511.50M145.12,695.60V697.60M145.12,507.70V509.70M160.61,695.60V699.40M160.61,507.70V511.50M176.09,695.60V697.60M176.09,507.70V509.70M191.58,695.60V699.40M191.58,507.70V511.50M207.07,695.60V697.60M207.07,507.70V509.70M222.55,695.60V699.40M222.55,507.70V511.50M238.04,695.60V697.60M238.04,507.70V509.70M253.53,695.60V699.40M253.53,507.70V511.50M269.01,695.60V697.60M269.01,507.70V509.70M284.50,695.60V699.40M284.50,507.70V511.50" stroke="#474747" stroke-width="1.1" fill="none"/>
<g font-size="10" fill="#222"><text x="45.80" y="689.45" text-anchor="end">90</text><text x="45.80" y="671.56" text-anchor="end">100</text><text x="45.80" y="653.66" text-anchor="end">110</text><text x="45.80" y="635.77" text-anchor="end">120</text><text x="45.80" y="617.87" text-anchor="end">130</text><text x="45.80" y="599.98" text-anchor="end">140</text><text x="45.80" y="582.08" text-anchor="end">150</text><text x="45.80" y="564.19" text-anchor="end">160</text><text x="45.80" y="546.29" text-anchor="end">170</text><text x="45.80" y="528.40" text-anchor="end">180</text><text x="45.80" y="510.50" text-anchor="end">190</text><text x="67.69" y="709.60" text-anchor="middle">0</text><text x="98.66" y="709.60" text-anchor="middle">10</text><text x="129.63" y="709.60" text-anchor="middle">20</text><text x="160.61" y="709.60" text-anchor="middle">30</text><text x="191.58" y="709.60" text-anchor="middle">40</text><text x="222.55" y="709.60" text-anchor="middle">50</text><text x="253.53" y="709.60" text-anchor="middle">60</text><text x="284.50" y="709.60" text-anchor="middle">70</text></g>
<text x="168.35" y="727.00" text-anchor="middle" font-size="11" fill="#222">Pressure (kPa)</text>
<text transform="translate(22.20,608.85) rotate(-90)" text-anchor="middle" font-size="10.8" fill="#222">Sensor Output (mV)</text>
<text x="56.20" y="521.60" font-size="10.9" fill="#222" textLength="85" lengthAdjust="spacingAndGlyphs">Diaphragm Width</text>
<rect x="68.30" y="525.90" width="57.40" height="41.50" fill="#fff" stroke="#b8b8b8" stroke-width="0.8"/>
<line x1="69.30" y1="531.00" x2="88.50" y2="531.00" stroke="#b6b6b6" stroke-width="1"/>
<circle cx="78.90" cy="531.00" r="3.4" fill="#fff"/>
<rect x="77.15" y="529.25" width="3.51" height="3.51" fill="#000000"/>
<text x="91.50" y="534.10" font-size="8.7" fill="#222">0.5 mm</text>
<line x1="69.30" y1="541.90" x2="88.50" y2="541.90" stroke="#f2c2c6" stroke-width="1"/>
<circle cx="78.90" cy="541.90" r="3.4" fill="#fff"/>
<circle cx="78.90" cy="541.90" r="1.98" fill="#ec0018"/>
<text x="91.50" y="545.00" font-size="8.7" fill="#222">1.0 mm</text>
<line x1="69.30" y1="552.40" x2="88.50" y2="552.40" stroke="#c2c2ec" stroke-width="1"/>
<circle cx="78.90" cy="552.40" r="3.4" fill="#fff"/>
<path d="M76.52,554.38L81.29,554.38L78.90,550.42Z" fill="#0808e8"/>
<text x="91.50" y="555.50" font-size="8.7" fill="#222">1.25 mm</text>
<line x1="69.30" y1="563.00" x2="88.50" y2="563.00" stroke="#c6e2e2" stroke-width="1"/>
<circle cx="78.90" cy="563.00" r="3.4" fill="#fff"/>
<path d="M76.52,561.02L81.29,561.02L78.90,564.98Z" fill="#087676"/>
<text x="91.50" y="566.10" font-size="8.7" fill="#222">1.5 mm</text>
<text x="155.40" y="524.30" font-size="10.9" fill="#222" textLength="99.8" lengthAdjust="spacingAndGlyphs">Applied Voltage= 5V</text>
<text x="174.20" y="535.70" font-size="10.9" fill="#222">Pores= 40 <tspan font-family="Liberation Serif">μ</tspan>m</text>
<text x="7.80" y="494.70" font-family='"Liberation Serif", serif' font-size="16.9" fill="#000" stroke="#000" stroke-width="0.25">(e)</text>
<line x1="371.37" y1="681.82" x2="563.55" y2="670.50" stroke="#b6b6b6" stroke-width="0.9"/>
<line x1="371.37" y1="683.91" x2="563.55" y2="606.90" stroke="#f2c2c6" stroke-width="0.9"/>
<line x1="371.37" y1="679.57" x2="563.55" y2="566.69" stroke="#c2c2ec" stroke-width="0.9"/>
<line x1="371.37" y1="673.59" x2="563.55" y2="516.72" stroke="#c6e2e2" stroke-width="0.9"/>
<g fill="#fff"><circle cx="371.37" cy="682.22" r="3.7"/><circle cx="392.73" cy="680.25" r="3.7"/><circle cx="435.43" cy="677.92" r="3.7"/><circle cx="478.14" cy="675.42" r="3.7"/><circle cx="520.85" cy="673.09" r="3.7"/><circle cx="563.55" cy="670.58" r="3.7"/><circle cx="371.37" cy="683.83" r="3.7"/><circle cx="392.73" cy="675.42" r="3.7"/><circle cx="435.43" cy="658.23" r="3.7"/><circle cx="478.14" cy="641.22" r="3.7"/><circle cx="520.85" cy="624.03" r="3.7"/><circle cx="563.55" cy="606.84" r="3.7"/><circle cx="371.37" cy="679.36" r="3.7"/><circle cx="392.73" cy="667.00" r="3.7"/><circle cx="435.43" cy="642.29" r="3.7"/><circle cx="478.14" cy="616.87" r="3.7"/><circle cx="520.85" cy="591.80" r="3.7"/><circle cx="563.55" cy="566.56" r="3.7"/><circle cx="371.37" cy="673.45" r="3.7"/><circle cx="392.73" cy="656.26" r="3.7"/><circle cx="435.43" cy="621.16" r="3.7"/><circle cx="478.14" cy="586.61" r="3.7"/><circle cx="520.85" cy="551.87" r="3.7"/><circle cx="563.55" cy="516.42" r="3.7"/></g>
<rect x="369.42" y="680.27" width="3.90" height="3.90" fill="#000000"/>
<rect x="390.78" y="678.30" width="3.90" height="3.90" fill="#000000"/>
<rect x="433.48" y="675.97" width="3.90" height="3.90" fill="#000000"/>
<rect x="476.19" y="673.47" width="3.90" height="3.90" fill="#000000"/>
<rect x="518.90" y="671.14" width="3.90" height="3.90" fill="#000000"/>
<rect x="561.60" y="668.63" width="3.90" height="3.90" fill="#000000"/>
<circle cx="371.37" cy="683.83" r="2.20" fill="#ec0018"/>
<circle cx="392.73" cy="675.42" r="2.20" fill="#ec0018"/>
<circle cx="435.43" cy="658.23" r="2.20" fill="#ec0018"/>
<circle cx="478.14" cy="641.22" r="2.20" fill="#ec0018"/>
<circle cx="520.85" cy="624.03" r="2.20" fill="#ec0018"/>
<circle cx="563.55" cy="606.84" r="2.20" fill="#ec0018"/>
<path d="M368.72,681.56L374.02,681.56L371.37,677.16Z" fill="#0808e8"/>
<path d="M390.08,669.20L395.38,669.20L392.73,664.80Z" fill="#0808e8"/>
<path d="M432.78,644.49L438.08,644.49L435.43,640.09Z" fill="#0808e8"/>
<path d="M475.49,619.07L480.79,619.07L478.14,614.67Z" fill="#0808e8"/>
<path d="M518.20,594.00L523.50,594.00L520.85,589.60Z" fill="#0808e8"/>
<path d="M560.90,568.76L566.20,568.76L563.55,564.36Z" fill="#0808e8"/>
<path d="M368.72,671.25L374.02,671.25L371.37,675.65Z" fill="#087676"/>
<path d="M390.08,654.06L395.38,654.06L392.73,658.46Z" fill="#087676"/>
<path d="M432.78,618.96L438.08,618.96L435.43,623.36Z" fill="#087676"/>
<path d="M475.49,584.41L480.79,584.41L478.14,588.81Z" fill="#087676"/>
<path d="M518.20,549.67L523.50,549.67L520.85,554.07Z" fill="#087676"/>
<path d="M560.90,514.22L566.20,514.22L563.55,518.62Z" fill="#087676"/>
<rect x="355.90" y="505.50" width="232.10" height="188.00" fill="none" stroke="#474747" stroke-width="1.2"/>
<path d="M353.90,693.50H355.90M586.00,693.50H588.00M352.40,684.55H355.90M584.50,684.55H588.00M353.90,675.60H355.90M586.00,675.60H588.00M352.40,666.64H355.90M584.50,666.64H588.00M353.90,657.69H355.90M586.00,657.69H588.00M352.40,648.74H355.90M584.50,648.74H588.00M353.90,639.79H355.90M586.00,639.79H588.00M352.40,630.83H355.90M584.50,630.83H588.00M353.90,621.88H355.90M586.00,621.88H588.00M352.40,612.93H355.90M584.50,612.93H588.00M353.90,603.98H355.90M586.00,603.98H588.00M352.40,595.02H355.90M584.50,595.02H588.00M353.90,586.07H355.90M586.00,586.07H588.00M352.40,577.12H355.90M584.50,577.12H588.00M353.90,568.17H355.90M586.00,568.17H588.00M352.40,559.21H355.90M584.50,559.21H588.00M353.90,550.26H355.90M586.00,550.26H588.00M352.40,541.31H355.90M584.50,541.31H588.00M353.90,532.36H355.90M586.00,532.36H588.00M352.40,523.40H355.90M584.50,523.40H588.00M353.90,514.45H355.90M586.00,514.45H588.00M352.40,505.50H355.90M584.50,505.50H588.00M355.90,693.50V695.50M355.90,505.50V507.50M371.37,693.50V697.30M371.37,505.50V509.30M386.85,693.50V695.50M386.85,505.50V507.50M402.32,693.50V697.30M402.32,505.50V509.30M417.79,693.50V695.50M417.79,505.50V507.50M433.27,693.50V697.30M433.27,505.50V509.30M448.74,693.50V695.50M448.74,505.50V507.50M464.21,693.50V697.30M464.21,505.50V509.30M479.69,693.50V695.50M479.69,505.50V507.50M495.16,693.50V697.30M495.16,505.50V509.30M510.63,693.50V695.50M510.63,505.50V507.50M526.11,693.50V697.30M526.11,505.50V509.30M541.58,693.50V695.50M541.58,505.50V507.50M557.05,693.50V697.30M557.05,505.50V509.30M572.53,693.50V695.50M572.53,505.50V507.50M588.00,693.50V697.30M588.00,505.50V509.30" stroke="#474747" stroke-width="1.1" fill="none"/>
<g font-size="10" fill="#222"><text x="349.50" y="687.35" text-anchor="end">90</text><text x="349.50" y="669.44" text-anchor="end">100</text><text x="349.50" y="651.54" text-anchor="end">110</text><text x="349.50" y="633.63" text-anchor="end">120</text><text x="349.50" y="615.73" text-anchor="end">130</text><text x="349.50" y="597.82" text-anchor="end">140</text><text x="349.50" y="579.92" text-anchor="end">150</text><text x="349.50" y="562.01" text-anchor="end">160</text><text x="349.50" y="544.11" text-anchor="end">170</text><text x="349.50" y="526.20" text-anchor="end">180</text><text x="349.50" y="508.30" text-anchor="end">190</text><text x="371.37" y="707.50" text-anchor="middle">0</text><text x="402.32" y="707.50" text-anchor="middle">10</text><text x="433.27" y="707.50" text-anchor="middle">20</text><text x="464.21" y="707.50" text-anchor="middle">30</text><text x="495.16" y="707.50" text-anchor="middle">40</text><text x="526.11" y="707.50" text-anchor="middle">50</text><text x="557.05" y="707.50" text-anchor="middle">60</text><text x="588.00" y="707.50" text-anchor="middle">70</text></g>
<text x="471.95" y="724.90" text-anchor="middle" font-size="11" fill="#222">Pressure (kPa)</text>
<text transform="translate(325.90,606.70) rotate(-90)" text-anchor="middle" font-size="10.8" fill="#222">Sensor Output (mV)</text>
<text x="359.90" y="523.00" font-size="10.9" fill="#222" textLength="85" lengthAdjust="spacingAndGlyphs">Diaphragm Width</text>
<rect x="371.50" y="527.30" width="56.30" height="41.90" fill="#fff" stroke="#b8b8b8" stroke-width="0.8"/>
<line x1="372.50" y1="532.00" x2="391.90" y2="532.00" stroke="#b6b6b6" stroke-width="1"/>
<circle cx="381.90" cy="532.00" r="3.4" fill="#fff"/>
<rect x="380.14" y="530.25" width="3.51" height="3.51" fill="#000000"/>
<text x="394.90" y="535.10" font-size="8.7" fill="#222">0.5 mm</text>
<line x1="372.50" y1="542.90" x2="391.90" y2="542.90" stroke="#f2c2c6" stroke-width="1"/>
<circle cx="381.90" cy="542.90" r="3.4" fill="#fff"/>
<circle cx="381.90" cy="542.90" r="1.98" fill="#ec0018"/>
<text x="394.90" y="546.00" font-size="8.7" fill="#222">1.0 mm</text>
<line x1="372.50" y1="553.40" x2="391.90" y2="553.40" stroke="#c2c2ec" stroke-width="1"/>
<circle cx="381.90" cy="553.40" r="3.4" fill="#fff"/>
<path d="M379.51,555.38L384.28,555.38L381.90,551.42Z" fill="#0808e8"/>
<text x="394.90" y="556.50" font-size="8.7" fill="#222">1.25 mm</text>
<line x1="372.50" y1="564.20" x2="391.90" y2="564.20" stroke="#c6e2e2" stroke-width="1"/>
<circle cx="381.90" cy="564.20" r="3.4" fill="#fff"/>
<path d="M379.51,562.22L384.28,562.22L381.90,566.18Z" fill="#087676"/>
<text x="394.90" y="567.30" font-size="8.7" fill="#222">1.5 mm</text>
<text x="455.80" y="521.70" font-size="10.9" fill="#222" textLength="99.8" lengthAdjust="spacingAndGlyphs">Applied Voltage= 5V</text>
<text x="455.80" y="534.10" font-size="10.9" fill="#222">Solid Diaphragm</text>
<text x="299.70" y="496.70" font-family='"Liberation Serif", serif' font-size="16.9" fill="#000" stroke="#000" stroke-width="0.25">(f)</text>
</svg>
</body></html>
